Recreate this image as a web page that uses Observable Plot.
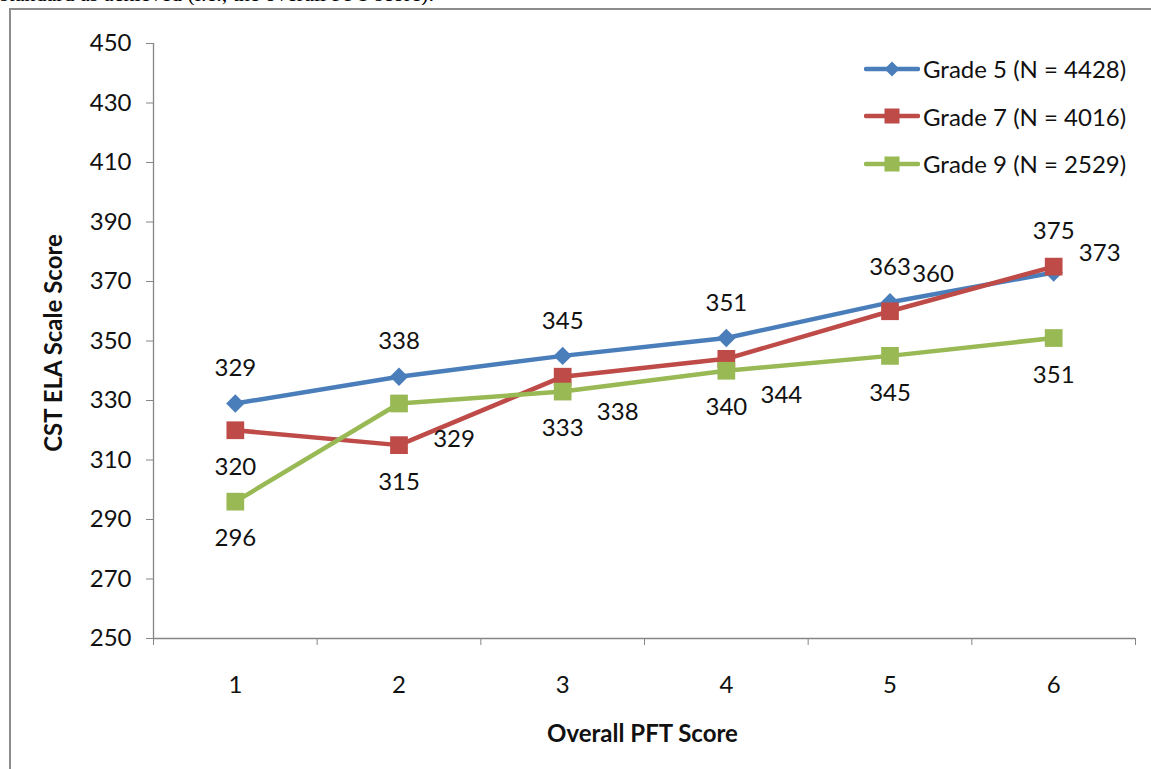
<!DOCTYPE html>
<html>
<head>
<meta charset="utf-8">
<script src="https://cdn.jsdelivr.net/npm/d3@7"></script>
<script src="https://cdn.jsdelivr.net/npm/@observablehq/plot@0.6"></script>
<style>
  html, body { margin: 0; padding: 0; background: #fff; width: 1151px; height: 769px; overflow: hidden; }
  #top-clip { position: absolute; left: 0; top: 0; width: 1151px; height: 5px; overflow: hidden; }
  #top-clip div { position: absolute; left: 0; top: -19px; font-family: "Liberation Serif", serif; font-size: 22px; color: #000; white-space: nowrap; }
  #frame { position: absolute; left: 9px; top: 8px; width: 1200px; height: 900px; border-left: 2px solid #8c8c8c; border-top: 2px solid #8c8c8c; box-sizing: border-box; }
  #chart { position: absolute; left: 0; top: 0; }
  #legend { position: absolute; left: 864px; top: 45px; font-family: Lato, sans-serif; font-size: 24px; color: #111; }
  #legend .row { display: flex; align-items: center; height: 47.5px; }
  #legend svg { margin-right: 3px; }
</style>
</head>
<body>
<div id="top-clip"><div>standard as achieved (i.e., the overall PFT score).</div></div>
<div id="frame"></div>
<div id="chart"></div>
<div id="legend"></div>
<script>
// ---- data ----
const categories = [1, 2, 3, 4, 5, 6];
const seriesNames = ["Grade 5 (N = 4428)", "Grade 7 (N = 4016)", "Grade 9 (N = 2529)"];
const grade5 = [329, 338, 345, 351, 363, 373];
const grade7 = [320, 315, 338, 344, 360, 375];
const grade9 = [296, 329, 333, 340, 345, 351];
const yTicks = [250, 270, 290, 310, 330, 350, 370, 390, 410, 430, 450];
const xTitle = "Overall PFT Score";
const yTitle = "CST ELA Scale Score";

// ---- styling ----
const colors = ["#4a7ebb", "#be4b48", "#98b954"];
const symbols = ["diamond2", "square", "square"];
const labelPlacement = [
  ["above", "above", "above", "above", "above", "right"],
  ["below", "below", "right-below", "right-below", "upper-right", "above"],
  ["below", "right-below", "below", "below", "below", "below"]
];
const placementOffsets = {
  "above": [0, -35],
  "below": [0, 37],
  "right-below": [55, 36],
  "upper-right": [43, -37],
  "right": [46, -19]
};

const rows = [];
[grade5, grade7, grade9].forEach((vals, i) => {
  vals.forEach((v, j) => rows.push({series: seriesNames[i], x: categories[j], y: v, place: labelPlacement[i][j], symbol: symbols[i]}));
});

const bounds = d3.range(categories.length + 1).map(i => categories[0] - 0.5 + i);
const axisGray = "#868686";
const fs = 24;

const chart = Plot.plot({
  width: 1151,
  height: 769,
  marginLeft: 153,
  marginRight: 16,
  marginTop: 43,
  marginBottom: 131,
  style: {fontFamily: "Lato, sans-serif", fontSize: fs + "px", color: "#111", background: "transparent"},
  x: {type: "linear", domain: [bounds[0], bounds[bounds.length - 1]], axis: null},
  y: {domain: [yTicks[0], yTicks[yTicks.length - 1]], axis: null},
  color: {domain: seriesNames, range: colors},
  marks: [
    Plot.axisY(yTicks, {tickSize: 7, tickPadding: 15, fontSize: fs, label: null, stroke: axisGray, fill: "#111", tickFormat: d => String(d)}),
    Plot.axisX(categories, {tickSize: 0, tickPadding: 37, fontSize: fs, label: null, fill: "#111", tickFormat: d => String(d)}),
    Plot.axisX(bounds, {tickSize: 7, tickFormat: () => "", label: null, stroke: axisGray}),
    Plot.ruleY([yTicks[0]], {stroke: axisGray, strokeWidth: 1.3}),
    Plot.ruleX([bounds[0]], {y1: yTicks[0], y2: yTicks[yTicks.length - 1], stroke: axisGray, strokeWidth: 1.3}),
    Plot.line(rows, {x: "x", y: "y", z: "series", stroke: "series", strokeWidth: 4.5}),
    Plot.dot(rows.filter(d => d.symbol === "diamond2"), {x: "x", y: "y", symbol: "diamond2", fill: "series", r: 8.3}),
    Plot.dot(rows.filter(d => d.symbol === "square"), {x: "x", y: "y", symbol: "square", fill: "series", r: 10}),
    ...Object.entries(placementOffsets).map(([k, [dx, dy]]) =>
      Plot.text(rows.filter(d => d.place === k), {x: "x", y: "y", text: d => String(d.y), dx, dy, fontSize: fs, fill: "#111", lineAnchor: "middle"})
    ),
    Plot.text([yTitle], {text: d => d, frameAnchor: "left", textAnchor: "middle", lineAnchor: "middle", dx: -99, dy: 2, rotate: -90, fontSize: 24, fontWeight: "bold", fill: "#111"}),
    Plot.text([xTitle], {text: d => d, frameAnchor: "bottom", textAnchor: "middle", lineAnchor: "middle", dy: 96, dx: -2, fontSize: 24, fontWeight: "bold", fill: "#111"})
  ]
});
document.getElementById("chart").appendChild(chart);

// legend
const legend = d3.select("#legend");
seriesNames.forEach((name, i) => {
  const row = legend.append("div").attr("class", "row");
  const svg = row.append("svg").attr("width", 56).attr("height", 20);
  svg.append("line").attr("x1", 2).attr("x2", 54).attr("y1", 10).attr("y2", 10)
    .attr("stroke", colors[i]).attr("stroke-width", 4.5).attr("stroke-linecap", "round");
  if (symbols[i] === "diamond2") {
    svg.append("path").attr("d", "M28,2.5L35.5,10L28,17.5L20.5,10Z").attr("fill", colors[i]);
  } else {
    svg.append("rect").attr("x", 20.5).attr("y", 2.5).attr("width", 15).attr("height", 15).attr("fill", colors[i]);
  }
  row.append("span").text(name);
});
</script>
</body>
</html>
